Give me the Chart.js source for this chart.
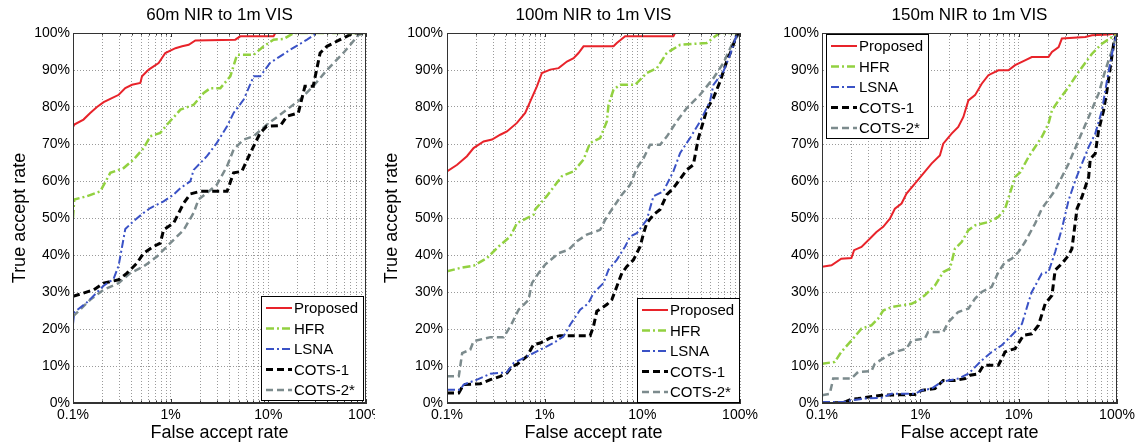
<!DOCTYPE html>
<html>
<head>
<meta charset="utf-8">
<script src="https://cdn.jsdelivr.net/npm/chart.js@4.4.1/dist/chart.umd.min.js"></script>
<style>
  body { margin: 0; background: #fff; width: 1141px; height: 447px; position: relative; overflow: hidden; }
  canvas { position: absolute; top: 0; display: block; }
</style>
</head>
<body>
<canvas id="c60" width="375" height="447" style="left:0"></canvas>
<canvas id="c100" width="380" height="447" style="left:380px"></canvas>
<canvas id="c150" width="381" height="447" style="left:760px"></canvas>
<script>
// x grid values (log axis, percent) and labelled decades
const xGridValues = [0.1, 0.2, 0.3, 0.4, 0.5, 0.6, 0.7, 0.8, 0.9,
  1, 2, 3, 4, 5, 6, 7, 8, 9, 10, 20, 30, 40, 50, 60, 70, 80, 90, 100];
const xLabelAt = [0.1, 1, 10, 100];
const xLabelText = ['0.1%', '1%', '10%', '100%'];
const seriesNames = ['Proposed', 'HFR', 'LSNA', 'COTS-1', 'COTS-2*'];
const panelTitles = ['60m NIR to 1m VIS', '100m NIR to 1m VIS', '150m NIR to 1m VIS'];

// [false accept %, true accept %]
const proposed60 = [[0.1,75],[0.102,75.2],[0.128,76.6],[0.15,78.4],[0.176,80],[0.206,81.3],[0.241,82.2],[0.294,83.3],[0.343,85.1],[0.402,86],[0.489,86.5],[0.509,88.3],[0.596,90.1],[0.753,91.9],[0.881,94.6],[1.12,95.9],[1.31,96.4],[1.53,96.8],[1.79,98],[4.59,98.2],[5.16,99.1],[11.3,99.1],[11.8,100],[100,100]];
const hfr60 = [[0.1,50],[0.103,55],[0.139,55.9],[0.19,57.2],[0.241,62.2],[0.33,63.5],[0.418,65.8],[0.529,68.9],[0.619,72.1],[0.783,73],[0.916,75.2],[1.26,79.3],[1.72,80.6],[2.18,83.8],[2.55,85.1],[3.23,85.1],[4.08,88.3],[4.78,94.1],[7.08,94.1],[8.96,96.4],[11.3,98.2],[14.4,98.4],[18.2,100],[100,100]];
const lsna60 = [[0.1,21.3],[0.103,24.5],[0.139,27.2],[0.176,29.9],[0.206,31.7],[0.26,33.5],[0.293,37.1],[0.343,47],[0.418,49.2],[0.529,51.4],[0.619,52.7],[0.846,54.5],[1.07,56.3],[1.26,58.1],[1.59,59.9],[1.72,63],[2.35,66.7],[2.97,70.3],[3.78,74.8],[4.41,78.4],[5.59,82],[7.08,88.3],[8.26,88.3],[10.4,91.9],[13.2,93.7],[16.8,95.5],[24.9,98.2],[31.5,100],[100,100]];
const cots1_60 = [[0.1,28.8],[0.163,30.6],[0.206,32.4],[0.293,33.3],[0.357,35.1],[0.451,37.8],[0.529,40.5],[0.669,42.3],[0.783,43.2],[0.846,46.8],[1.07,48.6],[1.36,54],[1.59,56.5],[2.01,57.2],[3.78,57.2],[4.41,62.2],[5.35,62.6],[6.55,67.6],[8.26,73],[9.62,74.8],[13.3,75],[15.5,77.5],[20.3,78.4],[23.7,85.6],[28.8,85.6],[33.9,94.6],[39.8,96.4],[54.2,98.2],[74.3,100],[100,100]];
const cots2_60 = [[0.1,23.4],[0.15,27.9],[0.206,30.6],[0.293,32.4],[0.386,35.1],[0.529,36.9],[0.724,39.6],[0.99,43.2],[1.36,46.8],[1.72,51.4],[1.93,55],[2.35,56.8],[2.97,59],[3.78,64],[4.41,68.5],[5.59,71.2],[7.08,72.1],[9.62,75.2],[15.5,79.3],[21.1,82],[28.8,85.6],[39.8,90],[58.6,94.6],[84.2,99.5],[100,100]];

const proposed100 = [[0.1,62.6],[0.127,64.4],[0.16,66.7],[0.187,68.9],[0.237,70.7],[0.289,71.2],[0.351,72.5],[0.411,73.4],[0.52,75.7],[0.632,78.4],[0.712,81.5],[0.833,85.6],[0.937,89.2],[1.14,90.1],[1.39,90.5],[1.69,92.3],[1.98,93.2],[2.22,94.6],[2.5,96.4],[5.07,96.4],[5.48,97.3],[6.67,99.1],[20.8,99.1],[21.6,100],[100,100]];
const hfr100 = [[0.1,35.6],[0.137,36.5],[0.187,37.1],[0.257,39.2],[0.338,42.3],[0.445,45],[0.52,48.6],[0.608,49.5],[0.77,50.9],[0.8,52.3],[1.05,55.9],[1.5,61.3],[1.98,62.6],[2.5,65.8],[2.92,70.3],[3.7,71.6],[4.33,76.1],[4.51,80.6],[5.07,84.7],[5.93,86],[8.44,86],[11.1,89.2],[14.1,90.5],[17.8,94.6],[24.4,96.8],[45.6,97.3],[55.6,99.1],[62.5,100],[100,100]];
const lsna100 = [[0.1,3.6],[0.137,3.6],[0.148,5],[0.203,6.3],[0.278,7.9],[0.411,8.3],[0.481,10.8],[0.658,12.6],[0.901,14.4],[1.23,16.2],[1.56,18],[1.83,21.2],[2.31,25.2],[2.81,27],[3.16,29.7],[4,32.4],[4.5,36],[5.48,38.7],[6.67,42.3],[7.5,45],[8.78,45.9],[11.1,49.5],[13,55.9],[16.4,57.2],[20.8,62.6],[24.4,67.6],[30.8,71.6],[39,76.1],[49.3,81.5],[53.4,86],[67.6,89.6],[79.1,94.1],[92.5,99.5],[100,100]];
const cots1_100 = [[0.1,2.7],[0.132,2.7],[0.148,5],[0.219,5.2],[0.278,6.3],[0.351,7.2],[0.411,8.1],[0.462,9.9],[0.52,10.4],[0.658,12.6],[0.77,15.8],[0.901,16.2],[1.14,17.6],[1.44,18.2],[2.92,18.2],[3.16,20.7],[3.42,24.8],[4.33,26.6],[4.87,27.9],[5.48,31.5],[6.17,35.1],[6.94,36.9],[8.11,38.7],[9.5,42.3],[10.3,45.9],[11.1,48.6],[13,50.9],[15.2,52.3],[17.8,56.3],[20.8,58.1],[28.5,63],[33.3,64.4],[37.5,71.6],[42.2,76.1],[45.6,79.3],[53.4,82.4],[62.5,86.9],[73.1,92.3],[82.2,95.5],[92.5,99.5],[100,100]];
const cots2_100 = [[0.1,7.2],[0.132,7.2],[0.143,13.5],[0.173,14.4],[0.187,16.7],[0.278,17.8],[0.38,17.8],[0.445,20.7],[0.541,25.2],[0.684,27.9],[0.74,32.4],[0.866,35.1],[1.01,37.4],[1.39,40.5],[1.76,41.4],[2.14,43.7],[2.7,45.5],[3.7,46.8],[4.16,49.5],[4.87,52.3],[6.17,56.3],[7.5,59],[8.78,63.5],[10.3,66.2],[12,69.8],[15.2,69.8],[17.8,72],[22.5,76.1],[28.5,79.7],[39,83.3],[53.4,87.8],[67.6,91.9],[85.5,97.7],[100,100]];

const proposed150 = [[0.1,36.8],[0.125,37.2],[0.157,39],[0.199,39.2],[0.212,41.3],[0.252,42.2],[0.306,44.4],[0.358,46.2],[0.419,47.6],[0.49,49.8],[0.551,52.5],[0.644,53.9],[0.724,56.6],[0.88,59.3],[1.07,62],[1.3,64.7],[1.58,66.9],[1.71,70.1],[2.08,72.8],[2.43,74.6],[2.74,77.3],[3.08,81.8],[3.6,83.2],[4.21,86.3],[4.92,88.6],[6.22,89.9],[7.87,89.9],[9.2,91.3],[11.6,92.6],[13.6,93.5],[20.1,93.5],[21.8,94.9],[25.5,96.2],[27.5,98.5],[47.6,98.9],[55.7,99.4],[82.2,99.6],[100,100]];
const hfr150 = [[0.1,10.6],[0.135,11.1],[0.157,13.8],[0.207,17.4],[0.252,20.1],[0.318,21],[0.372,22.8],[0.419,25],[0.509,25.9],[0.644,26.4],[0.814,26.8],[0.952,27.7],[1.11,29.1],[1.41,31.8],[1.71,35.4],[2,36.3],[2.25,41.7],[2.63,43.5],[3.08,46.7],[3.6,48],[4.92,48.9],[6.22,50.3],[7.28,52.5],[9.2,61.1],[10.4,62.4],[12.6,66.5],[14.7,69.2],[17.2,71.9],[20.1,75.5],[21.8,79.1],[25.5,81.8],[32.2,85.4],[40.7,89.5],[55.7,94.4],[70.3,97.1],[88.9,98.9],[100,100]];
const lsna150 = [[0.1,0.3],[0.164,0.3],[0.199,0.7],[0.272,1.2],[0.403,1.4],[0.509,2.5],[0.88,2.5],[1.03,3.4],[1.3,3.9],[1.65,5.7],[1.93,6.1],[2.43,6.6],[3.08,7.9],[3.6,9.7],[4.21,11.5],[5.32,13.8],[6.73,15.6],[8.51,18.3],[9.95,20.1],[10.8,21.4],[12.6,27.3],[13.6,30],[17.2,35],[20.1,35.4],[23.5,40.8],[27.5,47.1],[32.2,54.8],[37.7,60.2],[44,64.7],[51.5,69.2],[60.1,72.8],[70.3,79.1],[79.1,87.2],[88.9,94.4],[100,100]];
const cots1_150 = [[0.1,0.1],[0.164,0.1],[0.199,1],[0.233,1.2],[0.403,2.1],[0.88,2.3],[1.03,3.4],[1.41,3.9],[1.71,6.1],[2.25,6.1],[2.85,6.6],[3.2,7.5],[3.89,7.9],[4.38,10.2],[6.22,10.2],[7.28,13.8],[7.87,14.2],[9.2,14.7],[11.2,18.3],[13.6,18.7],[15.9,21],[18.6,26.8],[21.8,29.1],[23.5,35.9],[27.5,37.7],[32.2,39.9],[34.8,41.7],[39.2,52.5],[44,55.7],[51.5,61.1],[53.5,66],[60.1,67.4],[65,73.7],[73.1,79.1],[79.1,84.5],[85.5,90.8],[92.5,97.1],[100,100]];
const cots2_150 = [[0.1,2.1],[0.12,2.5],[0.13,6.6],[0.199,6.6],[0.233,8.4],[0.318,8.6],[0.344,10.6],[0.471,12.9],[0.551,13.8],[0.724,14.7],[0.814,16.9],[1.11,17.4],[1.2,19.2],[1.71,19.2],[1.93,21.9],[2.43,24.6],[3.08,25.5],[3.6,28.2],[4.21,30],[5.32,31.4],[6.22,35.4],[7.28,38.1],[8.51,39],[9.95,40.8],[11.6,43.5],[14.7,48.5],[17.2,52.5],[23.5,57.5],[32.2,64.7],[40.7,71],[51.5,77.3],[65,83.6],[76,89.9],[88.9,95.3],[100,100]];

const FONT = '"Liberation Sans", Arial, Helvetica, sans-serif';
const styles = [
  { borderColor: '#e8232a', borderWidth: 2, borderDash: [] },
  { borderColor: '#92d140', borderWidth: 2.5, borderDash: [8, 3, 2, 3] },
  { borderColor: '#3a52c6', borderWidth: 2, borderDash: [8, 3, 2, 3] },
  { borderColor: '#000000', borderWidth: 3, borderDash: [7, 4] },
  { borderColor: '#7c8b8d', borderWidth: 2.5, borderDash: [7, 4] }
];

// plot frame, small inner x ticks and boxed legend inside the plot area
const boxLegend = {
  id: 'boxLegend',
  afterDatasetsDraw(chart, args, opts) {
    const { ctx, chartArea: a } = chart;
    const xs = chart.scales.x;
    ctx.save();
    ctx.setLineDash([]);
    ctx.strokeStyle = '#333';
    ctx.lineWidth = 1;
    ctx.beginPath();
    xGridValues.forEach(v => {
      const px = Math.round(xs.getPixelForValue(v)) + 0.5;
      const len = xLabelAt.includes(v) ? 4 : 2.5;
      ctx.moveTo(px, a.bottom); ctx.lineTo(px, a.bottom - len);
      ctx.moveTo(px, a.top); ctx.lineTo(px, a.top + len);
    });
    ctx.stroke();
    ctx.strokeRect(a.left + 0.5, a.top + 0.5, a.width - 1, a.height - 1);
    const w = 102, h = 104;
    const x0 = opts.corner === 'tl' ? a.left + opts.dx : a.right - opts.dx - w;
    const y0 = opts.corner === 'tl' ? a.top + opts.dy : a.bottom - opts.dy - h;
    ctx.fillStyle = '#fff';
    ctx.fillRect(x0, y0, w, h);
    ctx.strokeStyle = '#000';
    ctx.strokeRect(x0 + 0.5, y0 + 0.5, w, h);
    ctx.font = '15px ' + FONT;
    ctx.textBaseline = 'middle';
    chart.data.datasets.forEach((ds, i) => {
      const y = y0 + 12 + i * 20.5;
      ctx.strokeStyle = ds.borderColor;
      ctx.lineWidth = ds.borderWidth;
      ctx.setLineDash(ds.borderDash);
      ctx.beginPath();
      ctx.moveTo(x0 + 5, y);
      ctx.lineTo(x0 + 31, y);
      ctx.stroke();
      ctx.setLineDash([]);
      ctx.fillStyle = '#000';
      ctx.fillText(ds.label, x0 + 33, y + 1);
    });
    ctx.restore();
  }
};

function makePanel(id, title, series, p) {
  const datasets = series.map((pts, i) => ({
    label: seriesNames[i],
    data: pts.map(([x, y]) => ({ x, y })),
    ...styles[i],
    pointRadius: 0,
    tension: 0,
    fill: false
  }));
  const gridOpts = { color: '#9a9a9a', lineWidth: 1, drawTicks: false };
  const borderOpts = { display: true, color: '#333', dash: [1, 2] };
  new Chart(document.getElementById(id), {
    type: 'line',
    data: { datasets },
    plugins: [boxLegend],
    options: {
      responsive: false,
      animation: false,
      layout: { padding: { left: 0, top: 0, right: p.padRight, bottom: 0 } },
      plugins: {
        legend: { display: false },
        tooltip: { enabled: false },
        title: {
          display: true, text: title, fullSize: false, color: '#000',
          font: { family: FONT, size: 17, weight: 'normal' },
          padding: { top: 5, bottom: 7.6 }
        },
        boxLegend: { corner: p.corner, dx: p.dx, dy: p.dy }
      },
      scales: {
        x: {
          type: 'logarithmic', min: 0.1, max: 100,
          grid: gridOpts, border: borderOpts,
          afterBuildTicks: s => { s.ticks = xGridValues.map(v => ({ value: v })); },
          afterFit: s => { s.height = 44; s.paddingLeft = 0; s.paddingRight = 0; },
          ticks: {
            autoSkip: false, maxRotation: 0, minRotation: 0, padding: 4, color: '#000',
            font: { family: FONT, size: 14 },
            callback: v => { const i = xLabelAt.indexOf(v); return i < 0 ? '' : xLabelText[i]; }
          },
          title: {
            display: true, text: 'False accept rate', color: '#000',
            font: { family: FONT, size: 18 }, padding: { top: 0, bottom: 3 }
          }
        },
        y: {
          min: 0, max: 100,
          grid: gridOpts, border: borderOpts,
          afterFit: s => { s.width = p.yWidth; s.paddingTop = 0; s.paddingBottom = 0; },
          ticks: {
            stepSize: 10, padding: p.yPad, color: '#000',
            font: { family: FONT, size: 14 },
            callback: v => v + '%'
          },
          title: {
            display: p.yTitle, text: 'True accept rate', color: '#000',
            font: { family: FONT, size: 18 }, padding: { top: p.yTitlePad, bottom: 0 }
          }
        }
      }
    }
  });
}

makePanel('c60', panelTitles[0], [proposed60, hfr60, lsna60, cots1_60, cots2_60],
  { padRight: 9, yWidth: 73, yPad: 3, yTitle: true, yTitlePad: 9, corner: 'br', dx: 3, dy: 3 });
makePanel('c100', panelTitles[1], [proposed100, hfr100, lsna100, cots1_100, cots2_100],
  { padRight: 20, yWidth: 67, yPad: 4, yTitle: true, yTitlePad: 1, corner: 'br', dx: 1, dy: 1 });
makePanel('c150', panelTitles[2], [proposed150, hfr150, lsna150, cots1_150, cots2_150],
  { padRight: 24, yWidth: 62, yPad: 3, yTitle: false, yTitlePad: 0, corner: 'tl', dx: 4, dy: 1 });
</script>
</body>
</html>
